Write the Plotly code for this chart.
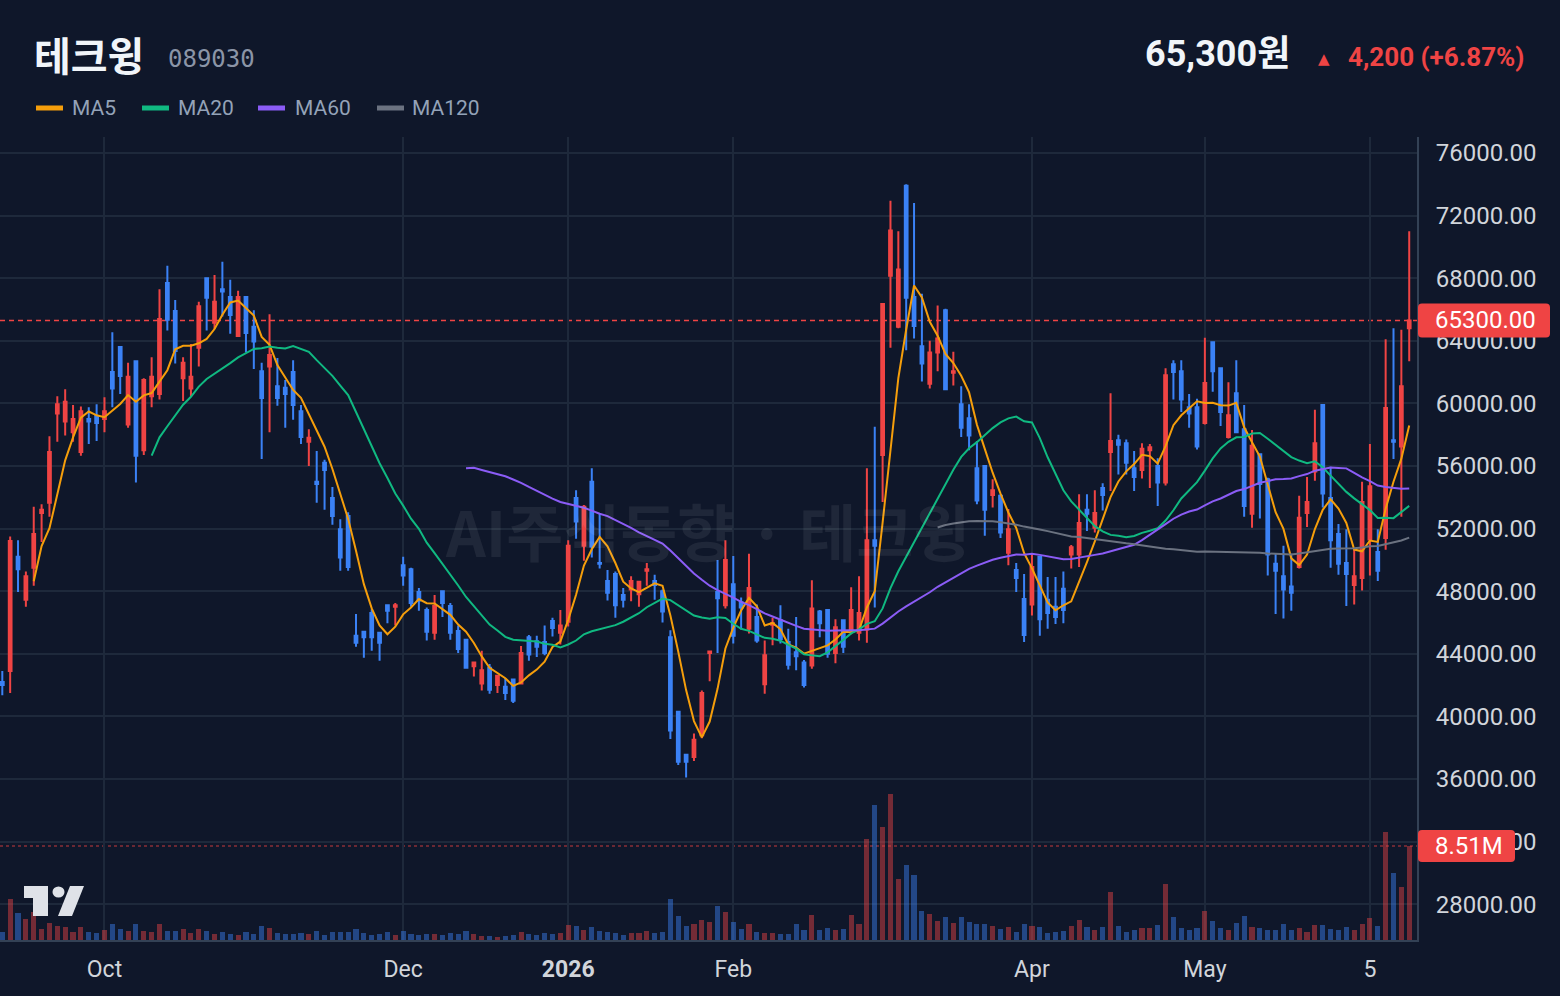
import plotly.graph_objects as go
import pandas as pd

# ---------------- data ----------------
opens = [42200, 42900, 50200, 47450, 49500, 53000, 53650, 59350, 58850, 58150,
         56900, 59000, 59200, 59000, 62000, 63600, 58650, 62700, 57000, 60450,
         60600, 67700, 65900, 61600, 60950, 63550, 68000, 65150, 67300, 66800,
         64300, 66800, 64900, 62050, 62350, 61100, 61000, 62000, 59500, 57550,
         55000, 56200, 53950, 51950, 52800, 45150, 45400, 46600, 45350, 47100,
         47000, 49650, 49400, 47950, 46800, 45350, 48000, 47050, 45450, 44900,
         43200, 42100, 43100, 42000, 41900, 42350, 42100, 45050, 44800, 44750,
         46100, 45350, 46050, 53950, 50900, 55000, 49800, 48650, 49100, 47750,
         48100, 47800, 49300, 48650, 48000, 45050, 40300, 37550, 37400, 38800,
         44050, 47950, 47100, 48450, 47300, 45600, 46350, 42050, 45850, 46150,
         44750, 44100, 43450, 43250, 46700, 46800, 44050, 46150, 45550, 45350,
         45550, 51250, 56700, 68150, 64900, 73900, 66800, 63650, 61250, 63250,
         65950, 61950, 59950, 59050, 55850, 56000, 54150, 54100, 50450, 49350,
         47500, 47150, 50200, 47450, 47000, 48150, 50350, 50350, 53200, 52050,
         54600, 56900, 57650, 57450, 55850, 55750, 57000, 56000, 54950, 62500,
         62050, 59750, 59750, 58750, 63900, 62250, 57850, 60650, 58350, 52950,
         56750, 55150, 49750, 48950, 48300, 49550, 53000, 55650, 59900, 53950,
         51650, 49800, 48400, 48850, 51300, 50500, 51400, 57650, 57250, 64800]
highs = [42900, 51500, 51250, 49250, 53400, 53550, 57900, 60450, 60900, 59900,
         59800, 59750, 59950, 60400, 64550, 63650, 62600, 62750, 61600, 62950,
         67300, 68800, 66600, 62950, 63800, 66500, 68000, 68200, 69050, 67900,
         67200, 66800, 65950, 62600, 65700, 62900, 61500, 62750, 59900, 58350,
         56950, 56400, 54650, 52600, 53050, 46550, 45450, 46850, 45350, 47100,
         47250, 50200, 49500, 48200, 46950, 47750, 48000, 47250, 45800, 44950,
         43500, 44200, 43350, 42600, 42450, 42400, 44500, 45200, 45150, 45800,
         46300, 46800, 51250, 54450, 53500, 55850, 52950, 49350, 49250, 48200,
         48950, 48600, 49800, 49050, 48100, 45500, 40350, 37600, 38900, 41650,
         44200, 50000, 51250, 50250, 47600, 50400, 47150, 44850, 46300, 47100,
         45600, 46350, 43600, 48700, 46800, 46800, 46200, 46200, 48250, 48950,
         55850, 58500, 66350, 72950, 71000, 74000, 72800, 67000, 64000, 66250,
         66050, 63300, 61100, 59950, 57600, 56050, 55150, 54200, 53250, 49800,
         49100, 50400, 50250, 48900, 48900, 49250, 50950, 54200, 54200, 54450,
         54900, 60650, 58000, 57700, 56950, 57450, 57400, 56500, 62250, 62750,
         62750, 60600, 60300, 64200, 63900, 62250, 61350, 62750, 59900, 58300,
         56750, 55250, 50400, 50900, 50400, 54100, 55300, 59600, 59900, 55950,
         52300, 51950, 50700, 55000, 57400, 51950, 64100, 64800, 64700, 71000]
lows = [41350, 41500, 47950, 47000, 48350, 51150, 52750, 57550, 57950, 57550,
        56650, 57400, 57600, 58150, 59750, 60600, 58450, 54950, 56700, 59750,
        60250, 64650, 62550, 60150, 60450, 62350, 64650, 64750, 65550, 64450,
        64300, 63250, 62200, 56450, 58150, 59850, 58450, 58950, 57400, 56000,
        53650, 53200, 52250, 49300, 49300, 44450, 43750, 44200, 43550, 45950,
        45800, 48350, 47000, 46750, 44850, 44900, 46350, 44900, 44050, 43050,
        42550, 41650, 41450, 41500, 41050, 40850, 42100, 43550, 43800, 43900,
        45100, 44600, 45750, 51350, 49950, 50150, 49450, 47400, 46300, 46950,
        47350, 47000, 48350, 47450, 46000, 38550, 36900, 36100, 37150, 38600,
        42250, 44050, 46900, 44650, 45550, 45300, 44700, 41450, 44550, 44650,
        43000, 42950, 41850, 43050, 45050, 43750, 43400, 44050, 45250, 44850,
        44700, 46950, 53700, 63550, 64800, 63400, 64150, 61400, 60950, 62050,
        60900, 61150, 57850, 57000, 53550, 51550, 53350, 51400, 49650, 47950,
        44750, 46450, 45150, 45600, 45900, 45950, 49450, 49550, 51850, 51750,
        53150, 54400, 55450, 55450, 54400, 55200, 54600, 53450, 54750, 60250,
        59450, 58450, 57050, 58650, 60750, 58550, 57750, 58150, 52750, 52050,
        52650, 49000, 46550, 46250, 46750, 49450, 52100, 55050, 53350, 49500,
        49050, 47050, 47150, 48050, 49000, 48650, 50650, 56450, 52750, 62700]
closes = [42000, 51200, 49400, 48950, 51650, 53200, 56900, 59950, 60100, 59000,
          59500, 58850, 58750, 59500, 60950, 61750, 61700, 56650, 61500, 61700,
          65400, 65350, 63350, 62600, 61700, 66200, 66750, 66500, 67150, 65650,
          66800, 64500, 63950, 60350, 63100, 60350, 60600, 59900, 57850, 57800,
          54850, 55750, 52800, 50150, 49550, 44700, 45050, 45050, 44700, 46750,
          47100, 49000, 47250, 47400, 45400, 47050, 47250, 45350, 44300, 43100,
          43450, 42950, 41700, 42600, 41500, 41000, 44050, 43950, 44450, 44050,
          45650, 45800, 50900, 52450, 53400, 50850, 49750, 47900, 47100, 47450,
          48650, 48600, 49400, 48400, 46700, 39100, 37100, 37100, 38500, 41500,
          44150, 47550, 50000, 45150, 46950, 48200, 44850, 43900, 45950, 44950,
          43300, 43850, 42000, 46900, 45950, 44000, 45700, 44450, 46800, 46600,
          51250, 50900, 66350, 71050, 68550, 66750, 64950, 62550, 63250, 64150,
          60900, 62050, 58450, 57950, 53800, 53200, 54450, 51750, 51950, 48850,
          45200, 49550, 46200, 46600, 46350, 46800, 50800, 52350, 52950, 53000,
          54150, 57600, 57350, 56200, 55300, 57100, 57200, 54950, 61800, 62000,
          60250, 59350, 57250, 61300, 62050, 59450, 59250, 58150, 53450, 57300,
          54850, 50350, 49300, 48100, 47900, 52700, 53700, 57450, 54250, 51250,
          49750, 49100, 48950, 53700, 54700, 49300, 59700, 57550, 61100, 65300]
volume_m = [0.73, 3.75, 2.47, 1.92, 2.5, 1.0, 1.56, 1.28, 1.19, 0.73,
            1.19, 0.73, 0.64, 0.92, 1.46, 1.0, 0.82, 1.46, 0.82, 0.73,
            1.46, 0.82, 0.82, 1.0, 0.64, 1.0, 0.82, 0.55, 0.73, 0.55,
            0.46, 0.73, 0.55, 1.28, 1.1, 0.64, 0.55, 0.55, 0.64, 0.55,
            0.82, 0.46, 0.73, 0.73, 0.73, 1.0, 0.64, 0.46, 0.55, 0.73,
            0.46, 0.82, 0.55, 0.46, 0.55, 0.55, 0.46, 0.64, 0.55, 0.82,
            0.55, 0.37, 0.37, 0.27, 0.37, 0.46, 0.73, 0.55, 0.46, 0.64,
            0.55, 0.64, 1.37, 1.28, 0.92, 1.19, 0.82, 0.73, 0.64, 0.46,
            0.64, 0.64, 0.82, 0.64, 0.73, 3.75, 2.2, 1.28, 1.46, 1.83,
            1.65, 3.11, 2.56, 1.65, 1.0, 1.46, 0.73, 0.64, 0.64, 0.55,
            0.55, 1.46, 0.92, 2.29, 0.92, 1.1, 0.92, 1.0, 2.29, 1.46,
            9.15, 12.2, 10.2, 13.2, 5.5, 6.8, 5.86, 2.65, 2.38, 1.74,
            2.1, 1.56, 2.1, 1.65, 1.46, 1.46, 1.28, 1.0, 1.19, 0.73,
            1.46, 1.28, 1.19, 0.64, 0.73, 0.82, 1.28, 1.83, 1.19, 0.92,
            1.19, 4.39, 1.28, 0.73, 0.92, 1.1, 1.1, 1.37, 5.03, 2.1,
            1.1, 0.92, 1.1, 2.65, 1.74, 1.1, 0.92, 1.56, 2.2, 1.19,
            1.1, 0.92, 0.92, 1.46, 0.92, 1.1, 0.73, 1.37, 1.37, 1.0,
            0.92, 1.19, 0.92, 1.46, 2.01, 1.28, 9.79, 6.04, 4.76, 8.51]
tick_index = [13, 51, 72, 93, 131, 153, 174]
tick_labels = ["Oct", "Dec", "<b>2026</b>", "Feb", "Apr", "May", "5"]
y_ticks = list(range(28000, 76001, 4000))
ma_periods = [5, 20, 60, 120]
ma_colors = ["#f59e0b", "#10b981", "#8b5cf6", "#6b7280"]
ticker_name = "테크윙"
ticker_code = "089030"
watermark = "AI주식동향 · 테크윙"

# ---------------- style ----------------
BG = "#0f172a"
GRID = "#1e293b"
AXLINE = "#334155"
RED = "#ef4444"
BLUE = "#3b82f6"
TXT = "#d1d5db"
MUTED = "#94a3b8"
FONT = "Roboto, Noto Sans CJK KR, sans-serif"
KFONT = "Noto Sans CJK KR, Roboto, sans-serif"

W, H = 1560, 996
PL, PR, PT, PB = 0, 1417, 137, 940  # plot area in pixels
PW, PH = PR - PL, PB - PT

n = len(closes)
idx = list(range(n))
s = pd.Series(closes, dtype=float)

Y0, Y1 = 25710.7, 77022.4
V1 = 72.7
price_per_px = (Y1 - Y0) / PH
vol_per_px = V1 / PH


def fx(px):
    return (px - PL) / PW


def fy(py):
    return (PB - py) / PH


fig = go.Figure()

up = [c > o for o, c in zip(opens, closes)]
vol_colors = ["rgba(239,68,68,0.45)" if u else "rgba(59,130,246,0.45)" for u in up]
fig.add_trace(go.Bar(x=idx, y=volume_m, width=0.65, marker=dict(color=vol_colors, line=dict(width=0)),
                     yaxis="y2", showlegend=False, hoverinfo="skip"))

fig.add_trace(go.Candlestick(
    x=idx, open=opens, high=highs, low=lows, close=closes,
    increasing=dict(line=dict(color=RED, width=2), fillcolor=RED),
    decreasing=dict(line=dict(color=BLUE, width=2), fillcolor=BLUE),
    whiskerwidth=0, showlegend=False, hoverinfo="skip"))

for p, col in zip(ma_periods, ma_colors):
    ma = s.rolling(p).mean()
    fig.add_trace(go.Scatter(x=idx, y=ma, mode="lines", line=dict(color=col, width=2),
                             showlegend=False, hoverinfo="skip"))

shapes = []
annotations = []

# last price dashed line and label
last = closes[-1]
lastv = volume_m[-1]
shapes.append(dict(type="line", xref="paper", yref="y", x0=0, x1=1, y0=last, y1=last,
                   line=dict(color=RED, width=1.5, dash="5px,4px"), layer="below"))
shapes.append(dict(type="line", xref="paper", yref="y2", x0=0, x1=1, y0=lastv, y1=lastv,
                   line=dict(color="rgba(239,68,68,0.55)", width=1.5, dash="3px,3px"), layer="below"))


def rounded(x0p, x1p, yc, half_px, per_px, r=4):
    a0, a1 = fx(x0p), fx(x1p)
    rx = r / PW
    ry = r * per_px
    b0, b1 = yc - half_px * per_px, yc + half_px * per_px
    return (f"M {a0},{b0 + ry} L {a0},{b1 - ry} Q {a0},{b1} {a0 + rx},{b1} "
            f"L {a1 - rx},{b1} Q {a1},{b1} {a1},{b1 - ry} L {a1},{b0 + ry} "
            f"Q {a1},{b0} {a1 - rx},{b0} L {a0 + rx},{b0} Q {a0},{b0} {a0},{b0 + ry} Z")


shapes.append(dict(type="path", xref="paper", yref="y", path=rounded(1418, 1550, last, 17, price_per_px),
                   fillcolor=RED, line=dict(width=0), layer="above"))
annotations.append(dict(xref="paper", yref="y", x=fx(1433), y=last, xanchor="left", yanchor="middle",
                        text=f"{last:.2f}", showarrow=False, font=dict(size=24, color="white", family=FONT)))
shapes.append(dict(type="path", xref="paper", yref="y2", path=rounded(1418, 1515, lastv, 16, vol_per_px),
                   fillcolor=RED, line=dict(width=0), layer="above"))
annotations.append(dict(xref="paper", yref="y2", x=fx(1433), y=lastv, xanchor="left", yanchor="middle",
                        text=f"{lastv:.2f}M", showarrow=False, font=dict(size=24, color="white", family=FONT)))

# header
annotations.append(dict(xref="paper", yref="paper", x=fx(32), y=fy(54), xanchor="left", yanchor="middle",
                        text=f"<b>{ticker_name}</b>", showarrow=False,
                        font=dict(size=40, color="#f1f5f9", family=KFONT)))
annotations.append(dict(xref="paper", yref="paper", x=fx(166), y=fy(59), xanchor="left", yanchor="middle",
                        text=ticker_code, showarrow=False,
                        font=dict(size=24, color="#8b95a7", family="DejaVu Sans Mono, monospace")))
chg = closes[-1] - closes[-2]
pct = chg / closes[-2] * 100
annotations.append(dict(xref="paper", yref="paper", x=fx(1292), y=fy(54), xanchor="right", yanchor="middle",
                        text=f"<b>{last:,}원</b>", showarrow=False,
                        font=dict(size=36, color="#f1f5f9", family=FONT)))
annotations.append(dict(xref="paper", yref="paper", x=fx(1323.5), y=fy(59), xanchor="center", yanchor="middle",
                        text="▲", showarrow=False,
                        font=dict(size=15, color=RED, family="DejaVu Sans, sans-serif")))
annotations.append(dict(xref="paper", yref="paper", x=fx(1526), y=fy(57), xanchor="right", yanchor="middle",
                        text=f"<b>{chg:,} (+{pct:.2f}%)</b>", showarrow=False,
                        font=dict(size=26, color=RED, family=FONT)))

# legend
sw_x = [36, 142, 258, 377]
tx_x = [70, 176, 293, 410]
for p, col, a, t in zip(ma_periods, ma_colors, sw_x, tx_x):
    shapes.append(dict(type="line", xref="paper", yref="paper", x0=fx(a), x1=fx(a + 27), y0=fy(108), y1=fy(108),
                       line=dict(color=col, width=5)))
    annotations.append(dict(xref="paper", yref="paper", x=fx(t), y=fy(108), xanchor="left", yanchor="middle",
                            text=f"MA{p}", showarrow=False, font=dict(size=21, color=MUTED, family=FONT)))

# watermark
annotations.append(dict(xref="paper", yref="paper", x=fx(707), y=fy(530), xanchor="center", yanchor="middle",
                        text=f"<b>{watermark}</b>", showarrow=False,
                        font=dict(size=62, color="rgba(255,255,255,0.07)", family=KFONT)))

# TradingView-like logo
LOGO = "#dfe2e8"


def ppath(pts):
    return "M " + " L ".join(f"{fx(x)},{fy(y)}" for x, y in pts) + " Z"


shapes.append(dict(type="path", xref="paper", yref="paper",
                   path=ppath([(24, 886), (48, 886), (48, 916), (33, 916), (33, 898), (24, 898)]),
                   fillcolor=LOGO, line=dict(width=0), layer="above"))
shapes.append(dict(type="circle", xref="paper", yref="paper", x0=fx(52.5), x1=fx(64.5), y0=fy(897.5), y1=fy(886.5),
                   fillcolor=LOGO, line=dict(width=0), layer="above"))
shapes.append(dict(type="path", xref="paper", yref="paper",
                   path=ppath([(70, 886), (84, 886), (72, 916), (58, 916)]),
                   fillcolor=LOGO, line=dict(width=0), layer="above"))

fig.update_layout(
    width=W, height=H,
    margin=dict(l=PL, r=W - PR, t=PT, b=H - PB, pad=0),
    paper_bgcolor=BG, plot_bgcolor=BG,
    font=dict(family=FONT, color=TXT),
    boxgap=0.5,
    bargap=0,
    shapes=shapes, annotations=annotations,
    hovermode=False,
    xaxis=dict(type="linear", range=[-0.293, 179.99], tickvals=tick_index, ticktext=tick_labels,
               showgrid=True, gridcolor=GRID, gridwidth=2, zeroline=False,
               showline=True, linecolor=AXLINE, linewidth=2, ticks="",
               tickfont=dict(size=23, color=TXT, family=FONT), ticklabelstandoff=7,
               rangeslider=dict(visible=False)),
    yaxis=dict(side="right", range=[Y0, Y1], tickvals=y_ticks, tickformat=".2f",
               showgrid=True, gridcolor=GRID, gridwidth=2, zeroline=False,
               showline=True, linecolor=AXLINE, linewidth=2, ticks="",
               tickfont=dict(size=24, color=TXT, family=FONT), ticklabelstandoff=12),
    yaxis2=dict(overlaying="y", range=[0, V1], visible=False, showgrid=False),
)

fig.write_html("out.html", config={"displayModeBar": False})
